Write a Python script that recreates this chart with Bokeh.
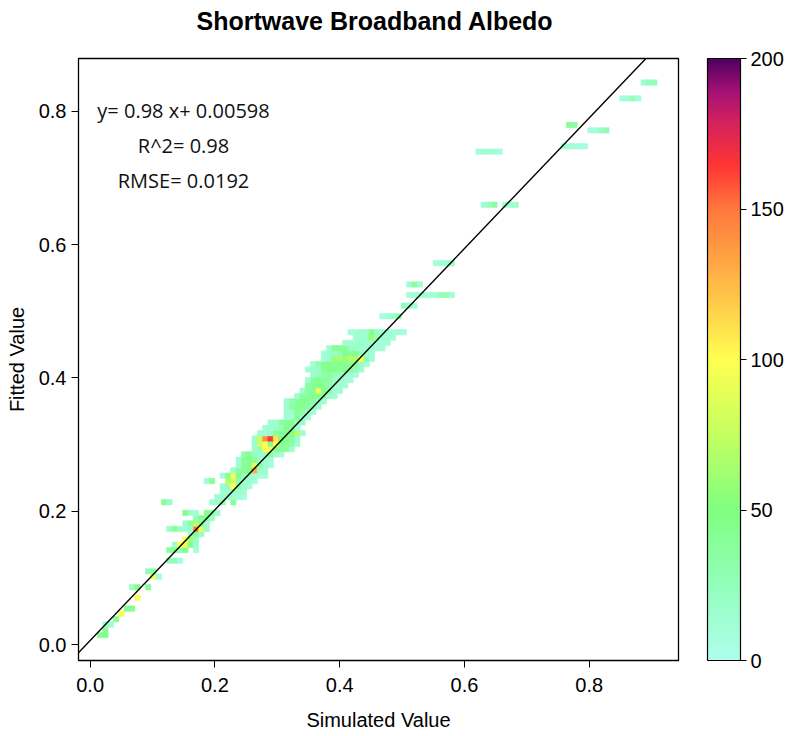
from bokeh.plotting import figure
from bokeh.layouts import column
from bokeh.models import (Range1d, LinearColorMapper, ColorBar, FixedTicker,
                          Slope, Label, NumeralTickFormatter, ColumnDataSource)
from bokeh.core.properties import value
from bokeh.embed import file_html
from bokeh.resources import INLINE

# ---------------- data: 2-D histogram of simulated vs fitted albedo ----------------
sim_bin0 = 0.0161      # centre of first simulated-value bin
sim_binw = 0.00854     # simulated-value bin width
fit_bin0 = 0.0141      # centre of first fitted-value bin
fit_binw = 0.00797     # fitted-value bin width

# (fitted bin index, first simulated bin index, counts of consecutive bins; 0 = empty)
fit_row = [0, 1, 2, 3, 4, 5, 7, 9, 11, 12, 14, 16, 17, 18, 19, 20, 21, 22, 23, 25, 25,
           26, 27, 28, 29, 30, 31, 32, 33, 34, 35, 36, 37, 38, 39, 40, 41, 42, 43, 44,
           45, 46, 47, 48, 49, 50, 51, 52, 53, 54, 55, 56, 57, 60, 62, 64, 66, 70, 81,
           91, 92, 95, 96, 101, 104]
sim_start = [0, 1, 1, 3, 4, 5, 7, 6, 10, 9, 13, 13, 14, 16, 17, 13, 16, 18, 16, 12, 21,
             22, 23, 23, 20, 23, 25, 26, 26, 27, 29, 29, 29, 30, 31, 32, 35, 35, 35, 35,
             37, 38, 39, 39, 40, 39, 40, 42, 42, 43, 46, 48, 47, 53, 57, 58, 58, 63, 72,
             71, 87, 92, 88, 98, 102]
row_counts = [
    [45, 45], [40], [20, 12], [45], [95], [45, 45], [95], [20, 45, 0, 40], [95, 10],
    [25, 35], [25, 25, 10], [40, 45, 25, 45, 0, 10], [15, 100, 90, 45, 15],
    [100, 60, 20], [15, 45, 20], [15, 40, 20, 15, 15, 150, 95, 15],
    [15, 35, 70, 45, 15], [25, 45, 40, 20], [45, 15, 12, 0, 45, 40, 15],
    [40, 20], [12, 15, 30, 0, 40],
    [12, 15, 20, 15, 12, 10], [10, 15, 20, 15, 12], [15, 20, 100, 35, 15, 10],
    [12, 40, 0, 0, 70, 80, 30, 15, 12, 10], [10, 40, 90, 45, 25, 20, 15, 10, 10],
    [15, 35, 40, 45, 130, 20, 12], [12, 40, 45, 90, 35, 15, 10],
    [12, 40, 45, 40, 15, 12, 10], [30, 40, 20, 15, 20, 35, 15, 10],
    [15, 25, 100, 95, 45, 40, 40, 12], [15, 80, 100, 45, 100, 45, 40, 35, 12],
    [15, 75, 140, 165, 110, 50, 45, 40, 12], [12, 15, 20, 40, 40, 45, 45, 70, 15],
    [12, 15, 20, 25, 45, 40, 15], [12, 15, 35, 40, 45, 20, 15], [12, 15, 40, 20, 12],
    [12, 15, 40, 35, 15, 12], [15, 35, 40, 40, 35, 25, 12],
    [12, 30, 40, 45, 40, 35, 20, 12], [15, 35, 40, 45, 40, 35, 20, 12],
    [15, 35, 40, 90, 45, 35, 15, 12], [35, 40, 45, 40, 30, 15, 15, 10],
    [15, 40, 45, 40, 35, 20, 15, 12, 10], [15, 20, 30, 35, 25, 20, 15, 12, 10],
    [12, 15, 20, 40, 45, 45, 40, 45, 35, 25, 12],
    [12, 30, 40, 45, 40, 45, 40, 45, 40, 20, 12],
    [12, 20, 60, 65, 60, 70, 65, 100, 30, 12],
    [12, 15, 20, 25, 45, 40, 45, 25, 15, 12],
    [12, 40, 45, 40, 20, 20, 15, 15, 12, 10, 10],
    [12, 15, 15, 20, 15, 15, 12, 10, 10], [12, 15, 15, 60, 20, 15, 12, 10],
    [10, 12, 15, 15, 45, 20, 15, 12, 10, 10, 8], [10, 12, 15, 30], [25, 20, 10],
    [10, 12, 10, 12, 10, 12, 25, 25, 12], [12, 35, 12], [10, 12, 15, 20],
    [12, 20, 35, 0, 12, 12, 15], [10, 12, 12, 10, 8], [12, 10, 10, 10, 8],
    [10, 10, 20, 30], [40, 35], [10, 10, 25, 8], [12, 25, 25],
]

fit_slope = 0.98
fit_intercept = 0.00598
title_text = "Shortwave Broadband Albedo"
stats_text = ["y= 0.98 x+ 0.00598", "R^2= 0.98", "RMSE= 0.0192"]

x_ticks = [0.0, 0.2, 0.4, 0.6, 0.8]
y_ticks = [0.0, 0.2, 0.4, 0.6, 0.8]
cbar_ticks = [0, 50, 100, 150, 200]

# ---------------- build histogram table ----------------
xs, ys, cs = [], [], []
for m, k0, counts in zip(fit_row, sim_start, row_counts):
    for i, c in enumerate(counts):
        if c > 0:
            xs.append(sim_bin0 + (k0 + i) * sim_binw)
            ys.append(fit_bin0 + m * fit_binw)
            cs.append(c)
src = ColumnDataSource(dict(x=xs, y=ys, count=cs))

# ---------------- palette (colour ramp of the colour bar) ----------------
anchors = [(0, (174, 254, 236)), (25, (146, 254, 186)), (50, (128, 255, 128)),
           (75, (196, 255, 96)), (100, (255, 255, 80)), (125, (255, 186, 72)),
           (150, (255, 120, 60)), (165, (255, 52, 52)), (180, (208, 32, 96)),
           (190, (160, 16, 117)), (200, (80, 0, 96))]
palette = []
for n in range(256):
    v = 200 * n / 255
    for (a, ca), (b, cb_) in zip(anchors[:-1], anchors[1:]):
        if a <= v <= b:
            t = (v - a) / (b - a)
            rgb = [round(ca[j] + t * (cb_[j] - ca[j])) for j in range(3)]
            palette.append("#%02x%02x%02x" % tuple(rgb))
            break
mapper = LinearColorMapper(palette=palette, low=0, high=200)

# ---------------- title strip ----------------
TITLE_H = 40
head = figure(width=789, height=TITLE_H, output_backend="svg", toolbar_location=None,
              x_range=Range1d(0, 789), y_range=Range1d(0, TITLE_H),
              min_border=0)
head.axis.visible = False
head.grid.visible = False
head.outline_line_color = None
head.text(x=[390], y=[TITLE_H - 20], text=[title_text], text_align="center",
          text_baseline="middle", text_font=value("Liberation Sans"),
          text_font_size="25px", text_font_style="bold", text_color="black")

# ---------------- main figure ----------------
X0, X1, Y0, Y1 = -0.0186, 0.943, -0.024, 0.879
p = figure(width=789, height=736 - TITLE_H, output_backend="svg",
           toolbar_location=None,
           x_range=Range1d(X0, X1), y_range=Range1d(Y0, Y1),
           min_border_left=78, min_border_right=111, min_border_top=58 - TITLE_H,
           min_border_bottom=76)
p.grid.visible = False
p.outline_line_color = "black"
p.outline_line_width = 1.3
p.background_fill_color = "white"
p.border_fill_color = "white"

for ax, ticks in ((p.xaxis, x_ticks), (p.yaxis, y_ticks)):
    ax.ticker = FixedTicker(ticks=ticks)
    ax.formatter = NumeralTickFormatter(format="0.0")
    ax.major_tick_out = 7
    ax.major_tick_in = 0
    ax.minor_tick_out = 0
    ax.minor_tick_in = 0
    ax.axis_line_color = "black"
    ax.major_tick_line_color = "black"
    ax.major_label_text_font = "Liberation Sans"
    ax.major_label_text_font_size = "20px"
    ax.major_label_text_color = "black"
    ax.axis_label_text_font = "Liberation Sans"
    ax.axis_label_text_font_size = "20px"
    ax.axis_label_text_font_style = "normal"
    ax.axis_label_text_color = "black"
p.xaxis.axis_label = "Simulated Value"
p.yaxis.axis_label = "Fitted Value"
p.xaxis.major_label_standoff = 10
p.xaxis.axis_label_standoff = 14
p.yaxis.major_label_standoff = 5
p.yaxis.axis_label_standoff = 8

p.rect(x="x", y="y", width=sim_binw, height=fit_binw, source=src,
       fill_color={"field": "count", "transform": mapper},
       line_color={"field": "count", "transform": mapper}, line_width=0.6)

p.add_layout(Slope(gradient=fit_slope, y_intercept=fit_intercept,
                   line_color="black", line_width=1.4))

for txt, yy in zip(stats_text, [0.801, 0.749, 0.696]):
    p.add_layout(Label(x=0.1497, y=yy, text=txt, text_align="center",
                       text_baseline="middle", text_font="Open Sans",
                       text_font_size="20px", text_color="#111111"))

cb = ColorBar(color_mapper=mapper, ticker=FixedTicker(ticks=cbar_ticks),
              width=33, height=602, padding=0, margin=0, location=(29, 0),
              bar_line_color="black", bar_line_width=1.2,
              major_tick_line_color="black", major_tick_out=6, major_tick_in=0,
              minor_tick_line_color=None, label_standoff=4,
              major_label_text_font="Liberation Sans",
              major_label_text_font_size="20px", major_label_text_color="black",
              background_fill_color=None)
p.add_layout(cb, "right")

page = column(head, p, spacing=0)
open("out.html", "w").write(file_html(page, INLINE))
